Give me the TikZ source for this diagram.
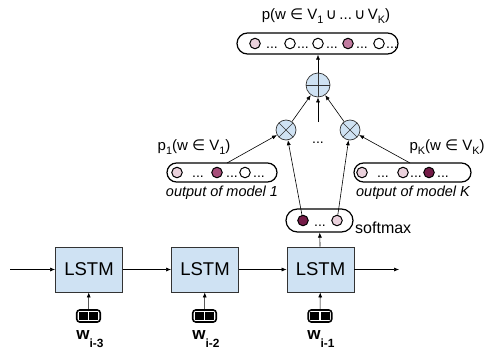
\documentclass[tikz,border=0pt]{standalone}
\usepackage{fontspec}
\usepackage{graphicx}
\setmainfont{Liberation Sans}
\newfontfamily\symf{DejaVu Sans}
\usetikzlibrary{arrows.meta}
\definecolor{lstmblue}{HTML}{CFE2F3}
\definecolor{pinkA}{HTML}{EAD1DC}
\definecolor{pinkB}{HTML}{C27BA0}
\definecolor{pinkC}{HTML}{A64D79}
\definecolor{pinkD}{HTML}{741B47}
\newcommand{\lsub}[1]{\raisebox{-0.5ex}{\scalebox{0.72}{#1}}}
\newcommand{\wsub}[1]{\raisebox{-0.95ex}{\scalebox{0.7}{#1}}}
\tikzset{
 pillbox/.style={draw=black, line width=1.2pt, minimum height=19pt, rounded corners=9.5pt, inner sep=0pt},
 bead/.style={circle, draw=black, line width=1pt, minimum size=10.5pt, inner sep=0pt},
 dotsn/.style={anchor=base, inner sep=0pt, font=\fontsize{14}{14}\selectfont},
 arr/.style={-{Latex[length=5pt,width=4pt]}, line width=0.6pt},
 lstmbox/.style={draw=black!80, fill=lstmblue, line width=0.8pt, minimum width=67pt, minimum height=45pt, inner sep=0pt, font=\fontsize{18.5}{18.5}\selectfont},
 wordbox/.style={draw=black, line width=1.6pt, rounded corners=3pt, inner sep=2pt},
 opnode/.style={circle, draw=black!80, fill=lstmblue, line width=0.7pt, inner sep=0pt},
 lbl/.style={inner sep=0pt, font=\fontsize{15}{15}\selectfont},
 olbl/.style={inner sep=0pt, font=\fontsize{14.5}{14.5}\selectfont\itshape},
 wlbl/.style={inner sep=0pt, font=\fontsize{17}{17}\selectfont\bfseries}
}
\begin{document}
\begin{tikzpicture}[x=1pt,y=-1pt]
\useasboundingbox (0,0) rectangle (494,356);

% top bar
\node[lbl] (toplbl) at (326,16) {p(w {\symf ∈} V\lsub{1}\,{\symf ∪}\,...\,{\symf ∪}\,V\lsub{K})};
\node[pillbox, minimum width=161pt, minimum height=21pt, rounded corners=10.5pt] (top) at (317.5,43.5) {};
\node[bead, fill=pinkA] (t1) at (255,43.5) {};
\node[bead, fill=white] (t2) at (290,43.5) {};
\node[bead, fill=white] (t3) at (318,43.5) {};
\node[bead, fill=pinkB] (t4) at (348,43.5) {};
\node[bead, fill=white] (t5) at (379,43.5) {};
\node[dotsn] (td1) at (272,48.5) {...};
\node[dotsn] (td2) at (303,48.5) {...};
\node[dotsn] (td3) at (332,48.5) {...};
\node[dotsn] (td4) at (362,48.5) {...};
\node[dotsn] (td5) at (392,48.5) {...};

% plus and otimes
\node[opnode, minimum size=24pt, path picture={\draw[line width=0.6pt] (path picture bounding box.north) -- (path picture bounding box.south) (path picture bounding box.west) -- (path picture bounding box.east);}] (plus) at (318,85) {};
\node[opnode, minimum size=20pt, path picture={\draw[line width=0.6pt] (path picture bounding box.north west) -- (path picture bounding box.south east) (path picture bounding box.north east) -- (path picture bounding box.south west);}] (lo) at (286,130) {};
\node[opnode, minimum size=20pt, path picture={\draw[line width=0.6pt] (path picture bounding box.north west) -- (path picture bounding box.south east) (path picture bounding box.north east) -- (path picture bounding box.south west);}] (ro) at (350,130) {};
\node[dotsn] (mdots) at (318,143) {...};
\coordinate (mid) at (318,122);

\draw[arr] (plus) -- (top.south -| plus);
\draw[arr] (lo) -- (plus);
\draw[arr] (ro) -- (plus);
\draw[arr] (mid) -- (plus);

% model 1
\node[lbl] (p1) at (194,147) {p\lsub{1}(w {\symf ∈} V\lsub{1})};
\node[pillbox, minimum width=110pt] (m1) at (222,172.5) {};
\node[bead, fill=pinkA] (a1) at (177,172.5) {};
\node[bead, fill=pinkC] (a2) at (217,172.5) {};
\node[bead, fill=white] (a3) at (245,172.5) {};
\node[dotsn] (ad1) at (198,177.5) {...};
\node[dotsn] (ad2) at (232,177.5) {...};
\node[dotsn] (ad3) at (259,177.5) {...};
\node[olbl] (o1) at (222,193) {output of model 1};
\coordinate (m1a) at (227,163);
\draw[arr] (m1a) -- (lo);

% model K
\node[lbl] (pk) at (447,147) {p\lsub{K}(w {\symf ∈} V\lsub{K})};
\node[pillbox, minimum width=117pt] (mk) at (412.5,172.5) {};
\node[bead, fill=pinkA] (b1) at (362,172.5) {};
\node[bead, fill=pinkA] (b2) at (403,172.5) {};
\node[bead, fill=pinkD] (b3) at (429,172.5) {};
\node[dotsn] (bd1) at (383,177.5) {...};
\node[dotsn] (bd2) at (416,177.5) {...};
\node[dotsn] (bd3) at (443,177.5) {...};
\node[olbl] (ok) at (413,193) {output of model K};
\coordinate (mka) at (410,163);
\draw[arr] (mka) -- (ro);

% softmax
\node[pillbox, minimum width=67pt, minimum height=23pt, rounded corners=11.5pt] (sm) at (319.5,220.5) {};
\node[bead, fill=pinkD] (s1) at (303,220.5) {};
\node[bead, fill=pinkA] (s2) at (337,220.5) {};
\node[dotsn] (sd) at (320,226) {...};
\node[lbl, anchor=west, font=\fontsize{16}{16}\selectfont] (smlbl) at (355,228) {softmax};
\draw[arr] (s1) -- (lo);
\draw[arr] (s2) -- (ro);

% LSTMs
\node[lstmbox] (L1) at (89,269.5) {LSTM};
\node[lstmbox] (L2) at (205,269.5) {LSTM};
\node[lstmbox] (L3) at (320.5,269.5) {LSTM};
\coordinate (in) at (10,269.5);
\coordinate (out) at (399,269.5);
\draw[arr] (in) -- (L1);
\draw[arr] (L1) -- (L2);
\draw[arr] (L2) -- (L3);
\draw[arr] (L3) -- (out);
\draw[arr] (L3) -- (sm);

% word embeddings
\node[wordbox] (e1) at (88.5,316) {\rule{9pt}{8pt}\hspace{1.5pt}\rule{9pt}{8pt}};
\node[wordbox] (e2) at (204.5,316) {\rule{9pt}{8pt}\hspace{1.5pt}\rule{9pt}{8pt}};
\node[wordbox] (e3) at (320,316) {\rule{9pt}{8pt}\hspace{1.5pt}\rule{9pt}{8pt}};
\draw[arr] (e1) -- (L1);
\draw[arr] (e2) -- (L2);
\draw[arr] (e3) -- (L3);
\node[wlbl] (w1) at (90,339) {w\wsub{i-3}};
\node[wlbl] (w2) at (206,339) {w\wsub{i-2}};
\node[wlbl] (w3) at (321,339) {w\wsub{i-1}};
\end{tikzpicture}
\end{document}
